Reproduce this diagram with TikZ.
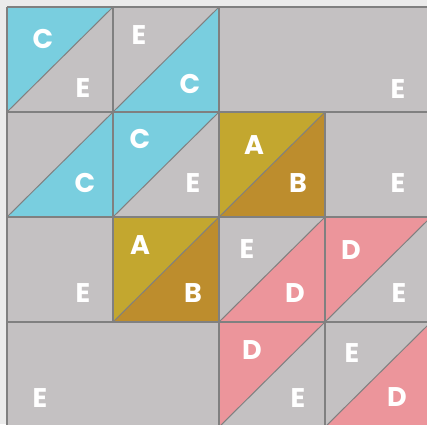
\documentclass[tikz,border=0pt]{standalone}
\usepackage{fontspec}
\setmainfont{Poppins}
\usepackage{tikz}

\definecolor{paperbg}{HTML}{EBEBEB}
\definecolor{patchgrey}{HTML}{C4C1C2}
\definecolor{patchblue}{HTML}{79CEDF}
\definecolor{goldA}{HTML}{C3A72F}
\definecolor{goldB}{HTML}{BD8D2D}
\definecolor{patchpink}{HTML}{EC959B}
\definecolor{seamgrey}{HTML}{808080}

\begin{document}
\begin{tikzpicture}[
    x=1pt, y=-1pt,
    lbl/.style={font=\fontsize{27}{27}\selectfont\bfseries, text=white, inner sep=0pt},
    seam/.style={draw=seamgrey, line width=1.3pt},
    diag/.style={draw=seamgrey, line width=1pt}
  ]
    \useasboundingbox (0,0) rectangle (427,424);
    \fill[paperbg] (0,0) rectangle (427,424);

    \begin{scope}
      \clip (0,0) rectangle (427,424);
      \fill[patchgrey] (7,7) rectangle (431,427);

      % half-square triangles: col/row/upper/lower
      \foreach \c/\r/\up/\lo in {1/1/patchblue/patchgrey, 2/1/patchgrey/patchblue,
          1/2/patchgrey/patchblue, 2/2/patchblue/patchgrey, 3/2/goldA/goldB,
          2/3/goldA/goldB, 3/3/patchgrey/patchpink, 4/3/patchpink/patchgrey,
          3/4/patchpink/patchgrey, 4/4/patchgrey/patchpink} {
        \pgfmathsetmacro{\xa}{7+106*(\c-1)}
        \pgfmathsetmacro{\ya}{7+105*(\r-1)}
        \fill[\up] (\xa,\ya) -- ++(106,0) -- ++(-106,105) -- cycle;
        \fill[\lo] (\xa+106,\ya) -- ++(0,105) -- ++(-106,0) -- cycle;
        \draw[diag] (\xa,\ya+105) -- ++(106,-105);
      }

      % block seams
      \foreach \y in {7,112,217,322,427} {
        \draw[seam] (7,\y) -- (431,\y);
      }
      \draw[seam] (7,7) -- (7,427);
      \draw[seam] (113,7) -- (113,322);
      \draw[seam] (219,7) -- (219,427);
      \draw[seam] (325,112) -- (325,427);
      \draw[seam] (431,7) -- (431,427);
    \end{scope}

    \foreach \n/\x/\y/\t in {a/43/39/C, b/83/88/E, c/139/35/E, d/190/84/C, e/398/89/E,
        f/85/183/C, g/140/139/C, h/193/183/E, i/254/145/A, j/298/183/B, k/398/183/E,
        l/83/293/E, m/140/245/A, n/193/293/B, o/247/249/E, p/295/293/D, q/351/250/D,
        r/399/293/E, s/40/398/E, t/252/350/D, u/298/398/E, v/352/353/E, w/397/397/D} {
      \node[lbl] (lbl\n) at (\x,\y) {\t};
    }
\end{tikzpicture}
\end{document}
